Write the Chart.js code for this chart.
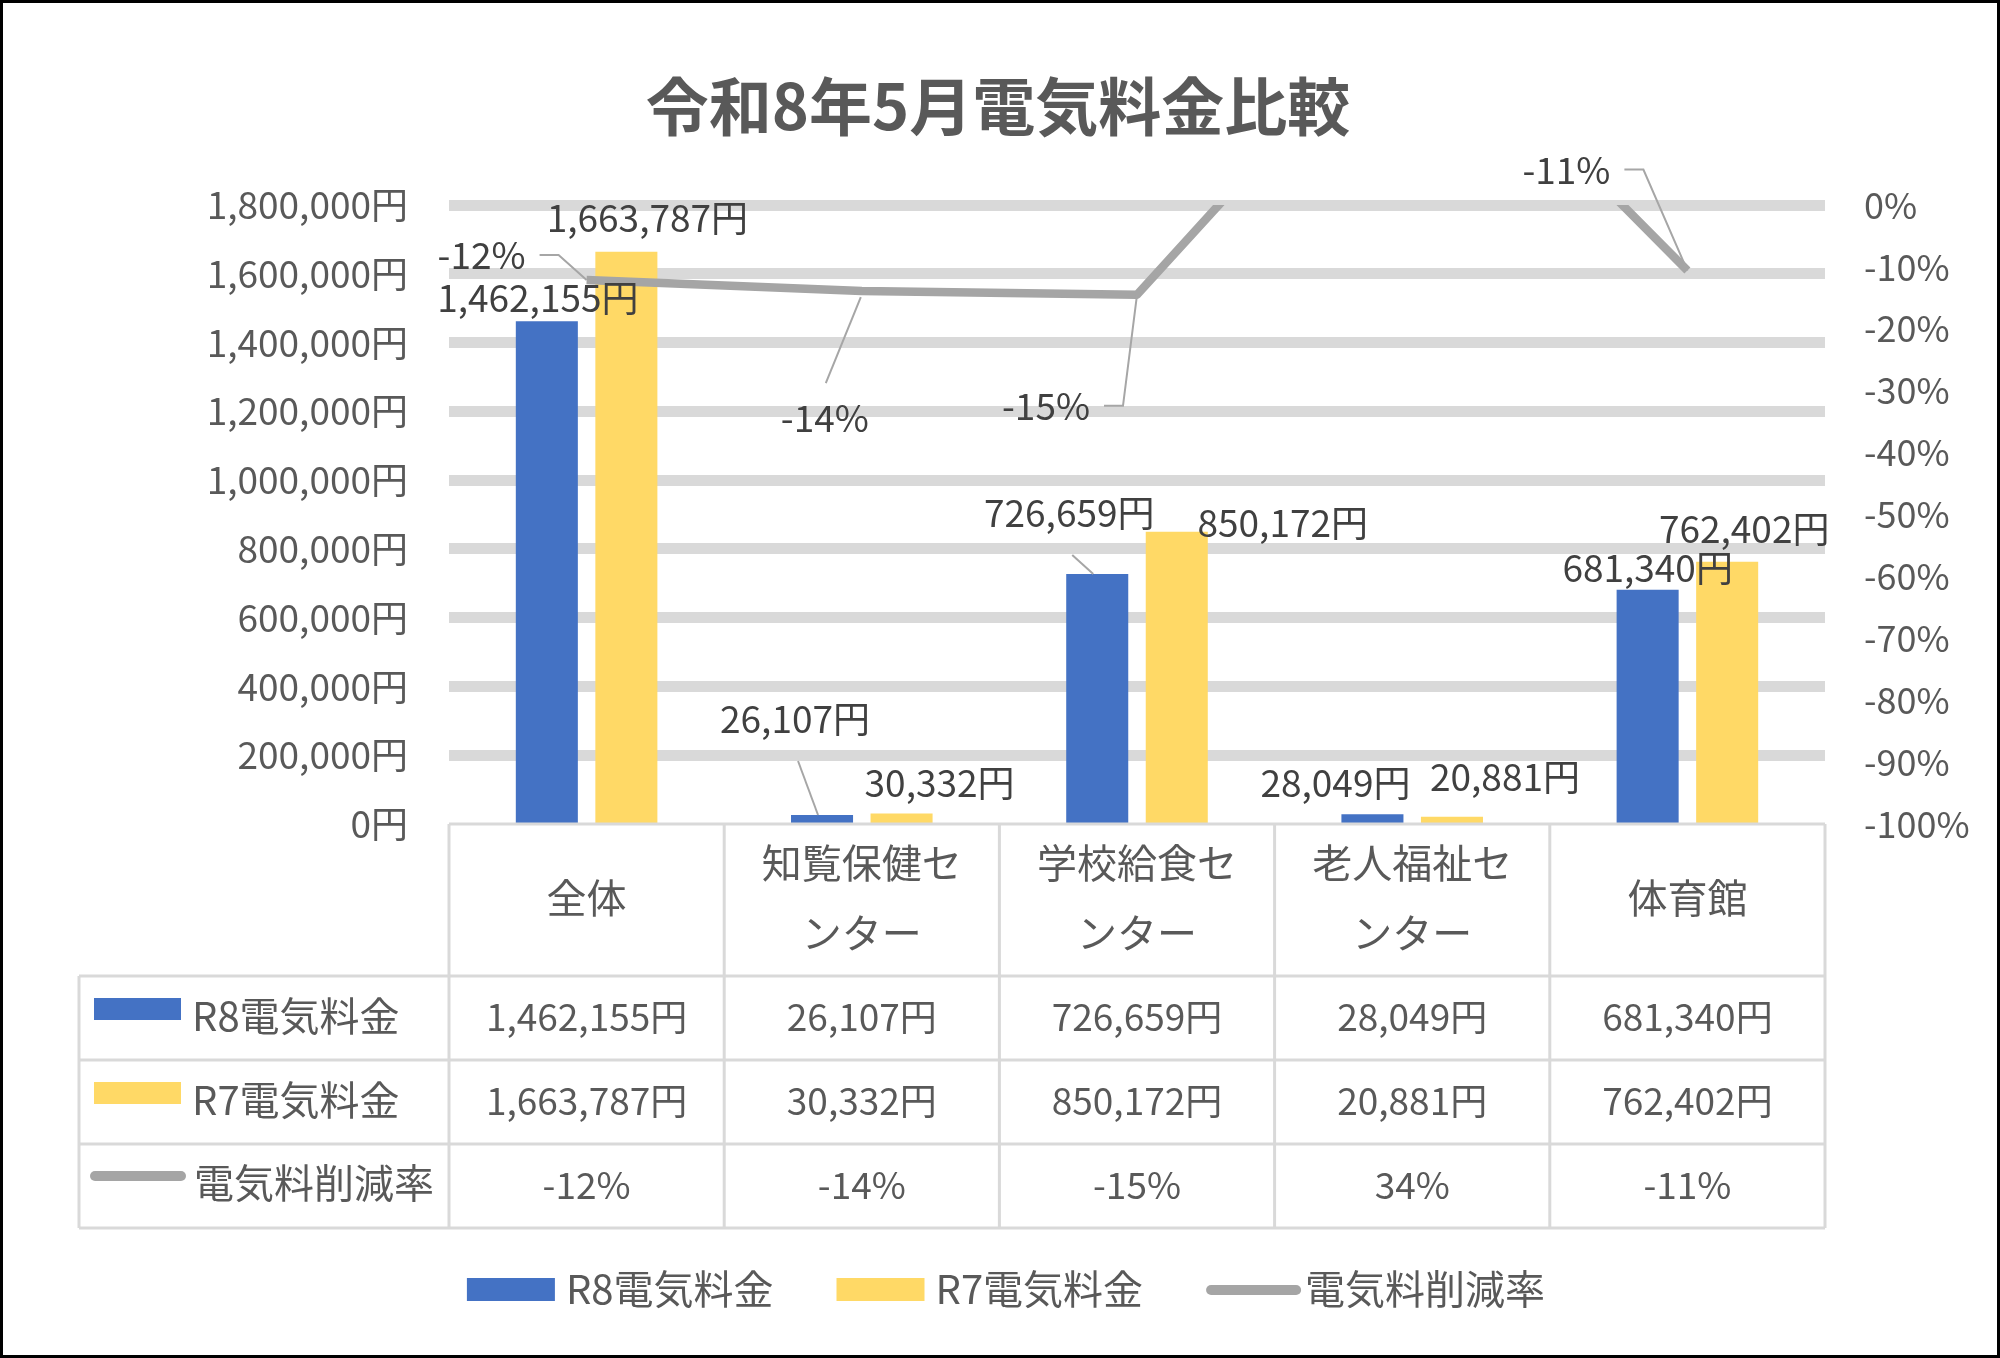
<!DOCTYPE html>
<html>
<head>
<meta charset="utf-8">
<script src="https://cdn.jsdelivr.net/npm/chart.js@4.4.1/dist/chart.umd.min.js"></script>
<style>
  html, body { margin: 0; padding: 0; background: #ffffff; }
  #wrap { width: 2000px; height: 1358px; }
</style>
</head>
<body>
<div id="wrap"><canvas id="c" width="2000" height="1358"></canvas></div>
<script>
// ---------- data ----------
const chartTitle = '令和8年5月電気料金比較';
const categories = ['全体', '知覧保健センター', '学校給食センター', '老人福祉センター', '体育館'];
const categoryLines = [['全体'], ['知覧保健セ', 'ンター'], ['学校給食セ', 'ンター'], ['老人福祉セ', 'ンター'], ['体育館']];
const seriesNames = ['R8電気料金', 'R7電気料金', '電気料削減率'];
const r8Values = [1462155, 26107, 726659, 28049, 681340];
const r7Values = [1663787, 30332, 850172, 20881, 762402];
const rateValues = [-0.121, -0.139, -0.145, 0.343, -0.106];
const rateLabels = ['-12%', '-14%', '-15%', '34%', '-11%'];
const yenMax = 1800000;
const yenStep = 200000;

// ---------- styles ----------
const FONT = '"Noto Sans CJK JP", "Noto Sans", sans-serif';
const BLUE = '#4472C4', YELLOW = '#FFD966', GRAY = '#A5A5A5';
const TEXT = '#595959', LABEL = '#404040', RULE = '#D9D9D9';
const FS = 37;      // numbers
const FS_JP = 40;   // Japanese names

// label placement (offsets of label centre from its mark)
const r8LabelOffsets = [[-9, -23], [-27, -96], [-28, -61], [-37, -31], [0, -22]];
const r8Leaders = [null, 'v', 'v', null, null];
const r7LabelOffsets = [[21, -34], [38, -31], [106, -9], [53, -40], [17, -33]];
const r7Leaders = [null, null, null, null, null];
const rateLabelOffsets = [[-105, -25], [-37, 127], [-91, 111], [0, 0], [-121, -101]];
const rateLeaders = ['h', 'v', 'h', null, 'h'];

const yen = v => Number(v).toLocaleString('en-US') + '円';

function drawLeader(ctx, mode, cx, cy, w, px, py) {
  if (!mode) return;
  ctx.save();
  ctx.strokeStyle = '#A6A6A6';
  ctx.lineWidth = 2;
  ctx.beginPath();
  if (mode === 'h') {
    const sx = cx + w / 2 + 14;
    ctx.moveTo(sx, cy);
    ctx.lineTo(sx + 19, cy);
    ctx.lineTo(px, py);
  } else {
    if (py > cy) { ctx.moveTo(cx + 3, cy + 42); ctx.lineTo(px - 4, py); }
    else { ctx.moveTo(cx + 1, cy - 35); ctx.lineTo(px - 1, py + 6); }
  }
  ctx.stroke();
  ctx.restore();
}

const overlay = {
  id: 'overlay',
  afterDatasetsDraw(chart) {
    const ctx = chart.ctx;
    const area = chart.chartArea;
    ctx.save();
    ctx.font = FS + 'px ' + FONT;
    ctx.fillStyle = LABEL;
    ctx.textAlign = 'center';
    ctx.textBaseline = 'middle';
    const groups = [
      [chart.getDatasetMeta(1), r8Values.map(yen), r8LabelOffsets, r8Leaders],
      [chart.getDatasetMeta(2), r7Values.map(yen), r7LabelOffsets, r7Leaders],
      [chart.getDatasetMeta(0), rateLabels, rateLabelOffsets, rateLeaders]
    ];
    groups.forEach(([meta, labels, offs, leaders]) => {
      meta.data.forEach((el, i) => {
        if (el.y < area.top - 1) return; // out of visible range
        const cx = el.x + offs[i][0], cy = el.y + offs[i][1];
        const w = ctx.measureText(labels[i]).width;
        drawLeader(ctx, leaders[i], cx, cy, w, el.x, el.y);
        ctx.fillText(labels[i], cx, cy);
      });
    });
    ctx.restore();
  },
  afterDraw(chart) {
    const ctx = chart.ctx;
    const area = chart.chartArea;
    const xs = chart.scales.x;
    const n = categories.length;
    const centers = categories.map((_, i) => xs.getPixelForValue(i));
    const edges = [area.left];
    for (let i = 0; i < n - 1; i++) edges.push((centers[i] + centers[i + 1]) / 2);
    edges.push(area.right);

    const top = area.bottom;
    const headerH = 152, rowH = 84;
    const rowTops = [top + headerH, top + headerH + rowH, top + headerH + 2 * rowH];
    const tableBottom = top + headerH + 3 * rowH;
    const tableLeft = 79;

    ctx.save();
    // title
    ctx.fillStyle = TEXT;
    ctx.font = 'bold 63px ' + FONT;
    ctx.textAlign = 'center';
    ctx.textBaseline = 'middle';
    ctx.fillText(chartTitle, 998, 106);

    // table rules
    ctx.strokeStyle = RULE;
    ctx.lineWidth = 3;
    ctx.beginPath();
    ctx.moveTo(area.left, top); ctx.lineTo(area.right, top);
    [...rowTops, tableBottom].forEach(y => { ctx.moveTo(tableLeft, y); ctx.lineTo(area.right, y); });
    edges.forEach(x => { ctx.moveTo(x, top); ctx.lineTo(x, tableBottom); });
    ctx.moveTo(tableLeft, rowTops[0]); ctx.lineTo(tableLeft, tableBottom);
    ctx.stroke();

    // header
    ctx.fillStyle = TEXT;
    ctx.font = FS_JP + 'px ' + FONT;
    ctx.textAlign = 'center';
    ctx.textBaseline = 'middle';
    categoryLines.forEach((lines, i) => {
      if (lines.length === 1) ctx.fillText(lines[0], centers[i], top + 74);
      else { ctx.fillText(lines[0], centers[i], top + 39); ctx.fillText(lines[1], centers[i], top + 109); }
    });
    // values
    ctx.font = FS + 'px ' + FONT;
    const rows = [r8Values.map(yen), r7Values.map(yen), rateLabels];
    rows.forEach((vals, r) => {
      const cy = rowTops[r] + rowH / 2 - 1;
      vals.forEach((t, i) => ctx.fillText(t, centers[i], cy));
    });
    // row keys
    ctx.font = FS_JP + 'px ' + FONT;
    ctx.textAlign = 'left';
    ctx.fillStyle = BLUE; ctx.fillRect(94, rowTops[0] + 22, 87, 22);
    ctx.fillStyle = YELLOW; ctx.fillRect(94, rowTops[1] + 22, 87, 22);
    ctx.strokeStyle = GRAY; ctx.lineWidth = 10; ctx.lineCap = 'round';
    ctx.beginPath(); ctx.moveTo(95, rowTops[2] + 32); ctx.lineTo(181, rowTops[2] + 32); ctx.stroke();
    ctx.fillStyle = TEXT;
    ctx.fillText(seriesNames[0], 192, rowTops[0] + rowH / 2 - 2);
    ctx.fillText(seriesNames[1], 192, rowTops[1] + rowH / 2 - 2);
    ctx.fillText(seriesNames[2], 194, rowTops[2] + rowH / 2 - 3);

    // bottom legend
    const keyW = 88, keyGap = 11, itemGap = 63;
    const widths = seriesNames.map(s => ctx.measureText(s).width);
    const total = widths.reduce((a, w) => a + keyW + keyGap + w, 0) + itemGap * 2;
    let x = 1006 - total / 2;
    const ly = 1289;
    seriesNames.forEach((s, i) => {
      if (i < 2) { ctx.fillStyle = i === 0 ? BLUE : YELLOW; ctx.fillRect(x, ly - 11, keyW, 23); }
      else {
        ctx.strokeStyle = GRAY; ctx.lineWidth = 10; ctx.lineCap = 'round';
        ctx.beginPath(); ctx.moveTo(x + 5, ly + 1); ctx.lineTo(x + keyW + 2, ly + 1); ctx.stroke();
      }
      ctx.fillStyle = TEXT;
      ctx.fillText(s, x + keyW + keyGap, ly);
      x += keyW + keyGap + widths[i] + itemGap;
    });

    // frame
    ctx.strokeStyle = '#000000';
    ctx.lineWidth = 3;
    ctx.lineCap = 'butt';
    ctx.strokeRect(1.5, 1.5, chart.width - 3, chart.height - 3);
    ctx.restore();
  }
};

Chart.defaults.font.family = FONT;
Chart.defaults.color = TEXT;

const isZeroTick = c => c.tick && c.tick.value === 0;

new Chart(document.getElementById('c'), {
  data: {
    labels: categories,
    datasets: [
      {
        type: 'line', label: seriesNames[2], data: rateValues, yAxisID: 'y2',
        borderColor: GRAY, backgroundColor: GRAY, borderWidth: 8.5,
        pointRadius: 0, tension: 0, borderJoinStyle: 'round', clip: 0, order: 0
      },
      {
        type: 'bar', label: seriesNames[0], data: r8Values, yAxisID: 'y',
        backgroundColor: BLUE, categoryPercentage: 0.578, barPercentage: 0.78, order: 1
      },
      {
        type: 'bar', label: seriesNames[1], data: r7Values, yAxisID: 'y',
        backgroundColor: YELLOW, categoryPercentage: 0.578, barPercentage: 0.78, order: 1
      }
    ]
  },
  options: {
    responsive: false,
    animation: false,
    devicePixelRatio: 1,
    layout: { padding: { top: 205, left: 0, right: 0, bottom: 0 } },
    plugins: { legend: { display: false }, title: { display: false }, tooltip: { enabled: false } },
    scales: {
      x: {
        offset: true,
        grid: { display: false },
        border: { display: false },
        ticks: { display: false },
        afterFit: s => { s.height = 534; }
      },
      y: {
        position: 'left', min: 0, max: yenMax,
        border: { display: false },
        grid: {
          drawTicks: false,
          lineWidth: c => isZeroTick(c) ? 0 : 11,
          color: c => isZeroTick(c) ? 'rgba(0,0,0,0)' : RULE
        },
        ticks: { stepSize: yenStep, padding: 41, color: TEXT, font: { size: FS }, callback: v => yen(v) },
        afterFit: s => { s.width = 449; }
      },
      y2: {
        position: 'right', min: -1, max: 0,
        border: { display: false },
        grid: { drawOnChartArea: false, drawTicks: false, lineWidth: 0 },
        ticks: { stepSize: 0.1, padding: 39, color: TEXT, font: { size: 36 }, callback: v => Math.round(v * 100) + '%' },
        afterFit: s => { s.width = 175; }
      }
    }
  },
  plugins: [overlay]
});
</script>
</body>
</html>
